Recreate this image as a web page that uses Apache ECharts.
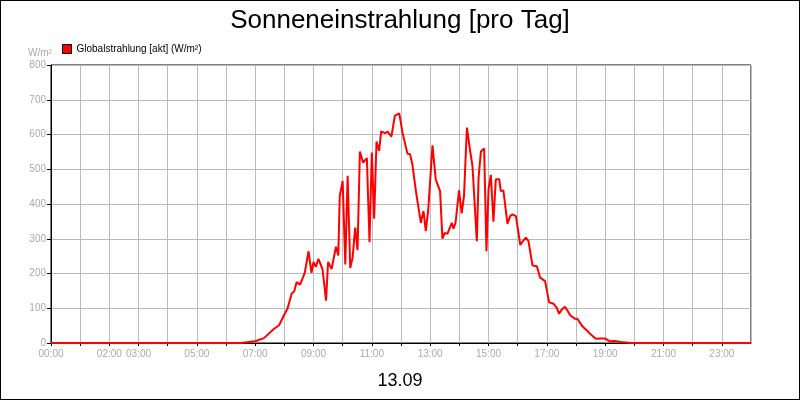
<!DOCTYPE html>
<html><head><meta charset="utf-8">
<script src="https://cdn.jsdelivr.net/npm/echarts@6/dist/echarts.min.js"></script>
<style>html,body{margin:0;padding:0}#c{width:798px;height:398px;border:1px solid #000}</style>
</head><body><div id="c"></div>
<script>
const hours = [0,6.5,7.0,7.3,7.65,7.82,8.0,8.11,8.25,8.34,8.42,8.54,8.70,8.83,8.93,9.0,9.08,9.17,9.31,9.37,9.43,9.50,9.62,9.77,9.85,9.90,10.0,10.09,10.17,10.26,10.34,10.43,10.51,10.59,10.70,10.83,10.92,11.0,11.08,11.16,11.25,11.32,11.45,11.54,11.67,11.79,11.94,12.05,12.22,12.31,12.39,12.51,12.68,12.77,12.85,12.93,13.08,13.19,13.34,13.42,13.50,13.59,13.74,13.80,13.87,13.99,14.08,14.16,14.26,14.37,14.45,14.60,14.66,14.74,14.85,14.93,15.0,15.08,15.17,15.25,15.37,15.42,15.51,15.65,15.74,15.82,15.94,16.0,16.09,16.16,16.28,16.37,16.51,16.66,16.77,16.94,17.08,17.23,17.34,17.42,17.51,17.62,17.71,17.80,17.96,18.05,18.22,18.40,18.54,18.68,18.83,18.99,19.16,19.33,19.54,19.88,24];
const radiation = [0,0,5,14,41,51,82,99,142,149,175,168,202,264,202,233,219,242,212,210,122,233,213,277,252,423,466,226,481,216,245,332,267,551,519,532,290,548,358,580,553,609,604,608,594,654,661,606,545,543,514,438,346,380,322,380,569,471,437,300,317,314,346,329,346,439,373,423,620,553,510,293,476,551,560,264,442,484,349,471,471,437,439,343,365,370,365,370,282,291,303,293,223,221,188,178,117,113,101,84,96,104,93,80,70,69,48,34,22,12,13,13,5,6,3,0,0];
const labelHours = [0,2,3,5,7,9,11,13,15,17,19,21,23];
const yTicks = [0,100,200,300,400,500,600,700,800];
const chart = echarts.init(document.getElementById('c'));
const pad = n => (n<10?'0':'')+n+':00';
chart.setOption({
  animation:false,
  backgroundColor:'#fff',
  title:[{text:'Sonneneinstrahlung [pro Tag]',left:'center',top:2,textStyle:{fontFamily:'Arial, Liberation Sans',fontSize:26,fontWeight:'normal',color:'#000'}},
         {text:'13.09',left:'center',top:366,textStyle:{fontFamily:'Arial, Liberation Sans',fontSize:18,fontWeight:'normal',color:'#000'}},
         {text:'W/m²',left:22,top:42,textStyle:{fontFamily:'Arial, Liberation Sans',fontSize:10,fontWeight:'normal',color:'#aaa'}}],
  legend:{left:56,top:38,itemWidth:9,itemHeight:9,itemGap:4,icon:'rect',textStyle:{fontFamily:'Arial, Liberation Sans',fontSize:10,color:'#000'},
    data:[{name:'Globalstrahlung [akt] (W/m²)',itemStyle:{color:'#f00',borderColor:'#000',borderWidth:1}}]},
  grid:{left:50,right:48,top:64,bottom:56,show:true,borderColor:'#000',borderWidth:1},
  xAxis:{type:'value',min:0,max:24,interval:1,
    axisLine:{lineStyle:{color:'#000'}},axisTick:{show:true,length:3,lineStyle:{color:'#000'}},
    splitLine:{show:true,lineStyle:{color:'#bbb'}},
    axisLabel:{color:'#aaa',fontFamily:'Arial, Liberation Sans',fontSize:10,margin:6,showMaxLabel:false,
      formatter:v=>labelHours.includes(v)?pad(v):''}},
  yAxis:{type:'value',min:yTicks[0],max:yTicks[yTicks.length-1],interval:100,
    axisLine:{show:true,lineStyle:{color:'#000'}},axisTick:{show:true,length:4,lineStyle:{color:'#000'}},
    splitLine:{lineStyle:{color:'#bbb'}},
    axisLabel:{color:'#aaa',fontFamily:'Arial, Liberation Sans',fontSize:10,margin:5}},
  series:[{name:'Globalstrahlung [akt] (W/m²)',type:'line',showSymbol:false,symbol:'none',
    itemStyle:{color:'#f00'},lineStyle:{color:'#f00',width:2},
    data:hours.map((h,i)=>[h,radiation[i]])}]
});
</script></body></html>
